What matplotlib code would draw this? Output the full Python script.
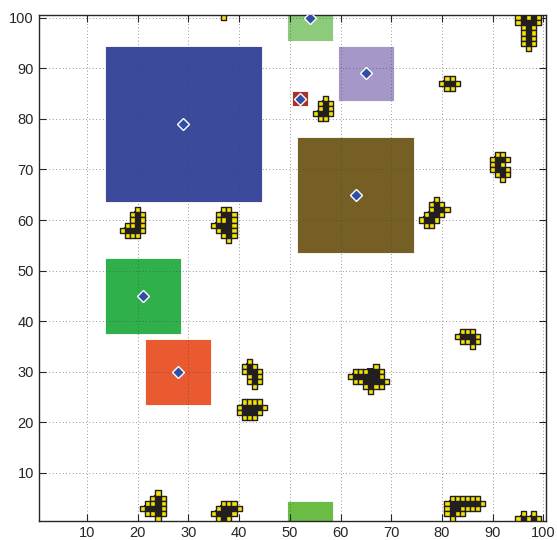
import matplotlib
matplotlib.use("Agg")
import matplotlib.pyplot as plt
from matplotlib.patches import Rectangle
from matplotlib.collections import PatchCollection

# ---------------------------
# Zonas (quadrados coloridos) e seus centros
# ---------------------------
zone_cx = [29, 54, 65, 52, 63, 21, 28, 54]
zone_cy = [79, 100, 89, 84, 65, 45, 30, 0]
zone_half = [15.5, 4.5, 5.5, 1.5, 11.5, 7.5, 6.5, 4.5]
zone_colors = ["#3c4a9c", "#8ccb7b", "#a597c8", "#a83326",
               "#765f24", "#2fb04b", "#e95a30", "#6bbc45"]

# ---------------------------
# Aglomerados de células (x mais à esquerda, y do topo, linhas de cima p/ baixo)
# Y = borda (amarelo), K = interior (preto)
# ---------------------------
cluster_x0 = [37, 95, 80, 90, 76, 55, 17, 35, 83, 41, 40, 62, 21, 35, 81, 95]
cluster_y0 = [100, 100, 88, 73, 64, 84, 62, 62, 38, 32, 24, 31, 6, 4, 5, 2]
cluster_rows = [
    ["Y"],
    ["YKYKY", "YKKKY", ".YKY.", ".YKY.", ".YKY.", ".YKY.", "..Y.."],
    [".YY.", "YKKY", ".YY."],
    [".YY.", "YKKY", "YKY.", "YKKY", ".YKY", "..Y."],
    ["...Y..", "..YKY.", "..YKKY", ".YKKY.", "YKKY..", ".YY..."],
    ["..Y.", ".YKY", ".YKY", "YKKY", ".YY."],
    ["...Y.", "..YKY", "..YKY", ".YYKY", "YKKKY", ".YYY."],
    ["..YY.", ".YKKY", ".YYKY", "YKKKY", ".YKKY", "..YKY", "...Y."],
    [".YYY.", "YKKKY", ".YYKY", "...Y."],
    [".Y..", "YKY.", "YKKY", ".YKY", ".YKY", "..Y."],
    [".YYYY.", "YKKKKY", "YKKKY.", ".YYY.."],
    [".....Y..", ".YYYKKY.", "YKKKKKY.", ".YYKKKKY", "...YKYY.", "....Y..."],
    ["...Y.", "..YKY", ".YYKY", "YKKKY", ".YYKY", "...Y."],
    ["..YYY.", ".YKKKY", "YKKKY.", ".YKY.."],
    [".YYYYYY.", "YKKKKKKY", "YKKYYYY.", "YKYY....", ".Y......"],
    [".Y.Y.", "YKYKY"],
]

TICKS = list(range(10, 101, 10))


def cells_of(code):
    xs, ys = [], []
    for x0, y0, rows in zip(cluster_x0, cluster_y0, cluster_rows):
        for i, row in enumerate(rows):
            for j, c in enumerate(row):
                if c == code:
                    xs.append(x0 + j)
                    ys.append(y0 - i)
    return xs, ys


def cell_patches(xs, ys):
    return [Rectangle((x - 0.5, y - 0.5), 1, 1) for x, y in zip(xs, ys)]


plt.rcParams["font.family"] = ["Liberation Sans", "DejaVu Sans"]
fig = plt.figure(figsize=(5.57, 5.40), dpi=100)
ax = fig.add_axes([0.0697, 0.0356, 0.9103, 0.9361])

for cx, cy, h, col in zip(zone_cx, zone_cy, zone_half, zone_colors):
    ax.add_patch(Rectangle((cx - h, cy - h), 2 * h, 2 * h, facecolor=col,
                           edgecolor="white", linewidth=0.6, zorder=1))

# marcadores nos centros das zonas (o da zona inferior fica fora do eixo)
ax.plot(zone_cx[:-1], zone_cy[:-1], linestyle="none", marker="D", markersize=6.5,
        markerfacecolor="#2f4fa3", markeredgecolor="white", markeredgewidth=1.0,
        zorder=4)

# interior preto sem costuras entre células vizinhas
kx, ky = cells_of("K")
ax.add_collection(PatchCollection(cell_patches(kx, ky), facecolor="#231f20",
                                  edgecolor="#231f20", linewidth=1.4,
                                  antialiased=False, zorder=3))
yx, yy = cells_of("Y")
ax.add_collection(PatchCollection(cell_patches(yx, yy), facecolor="#f5e400",
                                  edgecolor="#231f20", linewidth=1.0, zorder=3.5))

ax.set_xlim(0.5, 100.5)
ax.set_ylim(0.5, 100.5)
ax.set_xticks(TICKS)
ax.set_yticks(TICKS)
ax.set_axisbelow("line")
ax.grid(True, color="#444444", linestyle=(0, (1, 3)), linewidth=0.6, alpha=0.75)
ax.tick_params(direction="in", length=5, width=0.8, top=True, right=True,
               labelsize=10.5, colors="#262626")
for sp in ax.spines.values():
    sp.set_linewidth(1.0)
    sp.set_color("#262626")

plt.savefig("out.png", dpi=100)
plt.close()
